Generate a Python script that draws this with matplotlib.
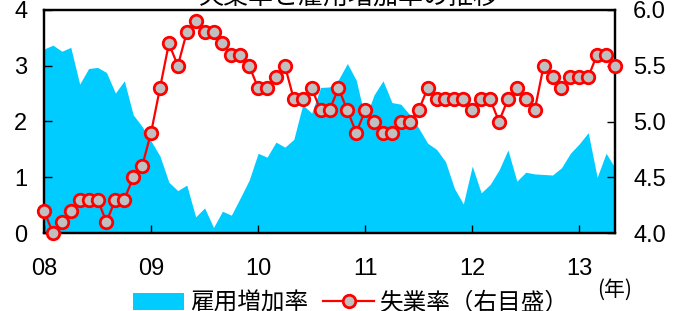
import numpy as np
import matplotlib
matplotlib.use("Agg")
import matplotlib.pyplot as plt

plt.rcParams['font.family'] = ['Liberation Sans', 'Noto Sans CJK JP', 'DejaVu Sans']

# Monthly data, Jan 2008 - May 2013
employment_growth = [
    3.30, 3.37, 3.26, 3.33, 2.67, 2.95, 2.97, 2.88, 2.51, 2.73, 2.12, 1.91,
    1.65, 1.38, 0.91, 0.76, 0.86, 0.29, 0.45, 0.10, 0.39, 0.32, 0.63, 0.95,
    1.43, 1.36, 1.63, 1.54, 1.68, 2.30, 2.15, 2.61, 2.62, 2.75, 3.04, 2.74,
    2.05, 2.48, 2.73, 2.34, 2.31, 2.12, 1.88, 1.61, 1.50, 1.28, 0.80, 0.52,
    1.20, 0.72, 0.87, 1.13, 1.49, 0.93, 1.09, 1.06, 1.05, 1.04, 1.17, 1.43,
    1.60, 1.80, 1.00, 1.43, 1.17,
]
unemployment = [
    4.2, 4.0, 4.1, 4.2, 4.3, 4.3, 4.3, 4.1, 4.3, 4.3, 4.5, 4.6,
    4.9, 5.3, 5.7, 5.5, 5.8, 5.9, 5.8, 5.8, 5.7, 5.6, 5.6, 5.5,
    5.3, 5.3, 5.4, 5.5, 5.2, 5.2, 5.3, 5.1, 5.1, 5.3, 5.1, 4.9,
    5.1, 5.0, 4.9, 4.9, 5.0, 5.0, 5.1, 5.3, 5.2, 5.2, 5.2, 5.2,
    5.1, 5.2, 5.2, 5.0, 5.2, 5.3, 5.2, 5.1, 5.5, 5.4, 5.3, 5.4,
    5.4, 5.4, 5.6, 5.6, 5.5,
]
year_ticks = [0, 12, 24, 36, 48, 60]
year_labels = ['08', '09', '10', '11', '12', '13']
left_ticks = [0, 1, 2, 3, 4]
right_ticks = [4.0, 4.5, 5.0, 5.5, 6.0]

title = '失業率と雇用増加率の推移'
label_emp = '雇用増加率'
label_unemp = '失業率（右目盛）'
unit = '(年)'

CYAN = '#00CCFF'
RED = '#FF0000'
GREY = '#C0C0C0'
FS = 17

x = np.arange(len(unemployment))

fig = plt.figure(figsize=(6.8, 3.11), dpi=100)
ax = fig.add_axes([44/680, 1-233/311, (615-44)/680, (233-10)/311])
ax.fill_between(x, 0, employment_growth, color=CYAN, lw=0, zorder=1)
ax.set_xlim(0, len(unemployment) - 1)
ax.set_ylim(0, 4)
ax.set_yticks(left_ticks)
ax.set_yticklabels([str(t) for t in left_ticks])
ax.set_xticks(year_ticks)
ax.set_xticklabels(year_labels)
ax.tick_params(axis='y', direction='in', length=6, width=1, labelsize=FS, pad=12)
ax.tick_params(axis='x', direction='in', length=6, width=1, labelsize=FS, pad=18)

ax2 = ax.twinx()
ln, = ax2.plot(x, unemployment, '-o', color=RED, lw=1.6, ms=9, mfc=GREY,
               mec=RED, mew=2, clip_on=False, zorder=5)
ax2.set_ylim(4.0, 6.0)
ax2.set_yticks(right_ticks)
ax2.set_yticklabels([f'{t:.1f}' for t in right_ticks])
ax2.tick_params(axis='y', direction='in', length=6, width=1, labelsize=FS, pad=13)

for a in (ax, ax2):
    for s in a.spines.values():
        s.set_linewidth(1.6)
        s.set_color('black')

fig.text(349/680, 1 + 3/311, title, ha='center', va='center', fontsize=18,
         family=['Noto Sans CJK JP'])

from matplotlib.patches import Patch
from matplotlib.lines import Line2D
h1 = Patch(facecolor=CYAN, edgecolor='none')
h2 = Line2D([], [], color=RED, lw=1.6, marker='o', ms=9, mfc=GREY, mec=RED, mew=2)
leg = fig.legend([h1, h2], [label_emp, label_unemp], loc='center left',
                 bbox_to_anchor=(133/680, 1 - 303/311), ncol=2, frameon=False,
                 handlelength=2.15, handletextpad=0.25,
                 columnspacing=0.65, borderpad=0, borderaxespad=0,
                 prop={'family': ['Noto Sans CJK JP'], 'size': FS})

fig.text(615/680, 1 - 290/311, unit, ha='center', va='center', fontsize=15,
         family=['Noto Sans CJK JP'])

fig.savefig('out.png', dpi=100)
